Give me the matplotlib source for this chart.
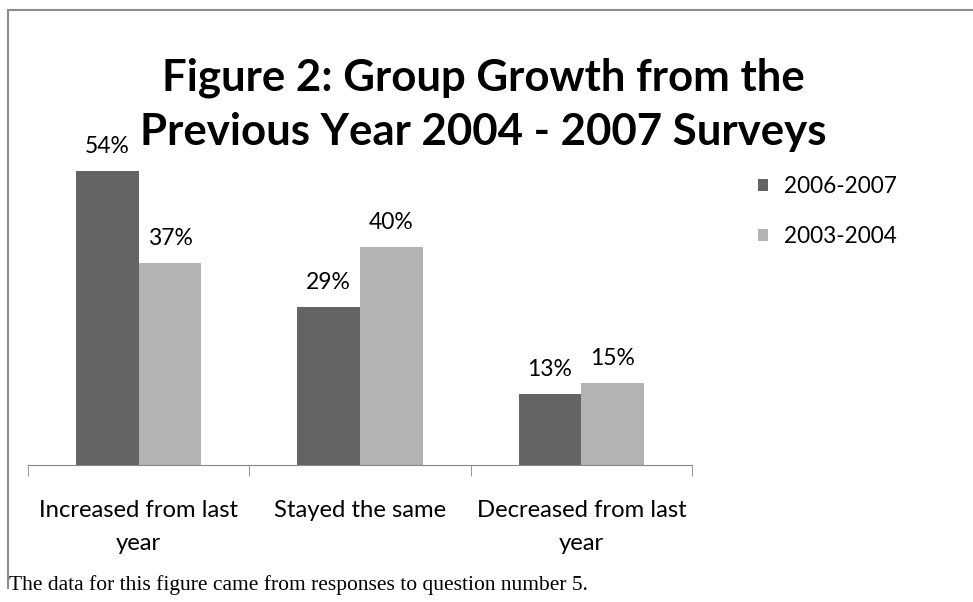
import numpy as np
import matplotlib.pyplot as plt
from matplotlib.lines import Line2D

# survey answers, percent of groups
categories = ['Increased from last\nyear', 'Stayed the same', 'Decreased from last\nyear']
series_names = ['2006-2007', '2003-2004']
vals_2006_2007 = [54, 29, 13]
vals_2003_2004 = [37, 40, 15]

dark = '#646464'
light = '#b3b3b3'
font = 'Lato'

fig = plt.figure(figsize=(9.73, 6.02), dpi=100)
ax = fig.add_axes([28 / 973, 137 / 602, 664 / 973, 327 / 602])

x = np.arange(len(categories))
w = 0.283
b1 = ax.bar(x - w / 2, vals_2006_2007, w, color=dark, label=series_names[0])
b2 = ax.bar(x + w / 2, vals_2003_2004, w, color=light, label=series_names[1])

for bars in (b1, b2):
    ax.bar_label(bars, labels=[f'{v}%' for v in bars.datavalues], padding=10,
                 fontsize=16.5, family=font)

ax.set_xlim(-0.5, 2.5)
ax.set_ylim(0, 60)
ax.set_yticks([])
for s in ('top', 'right', 'left'):
    ax.spines[s].set_visible(False)
ax.spines['bottom'].set_color('#878787')
ax.set_xticks([-0.5, 0.5, 1.5, 2.5], minor=True)
ax.set_xticks(x)
ax.set_xticklabels(categories, fontsize=17.2, family=font, linespacing=1.7)
ax.tick_params(axis='x', which='major', length=0, pad=25)
ax.tick_params(axis='x', which='minor', length=8, color='#878787')

ax.legend(loc='upper left', bbox_to_anchor=(738 / 973, 1 - 156 / 602),
          bbox_transform=fig.transFigure, frameon=False, prop={'family': font, 'size': 16.3},
          handlelength=0.42, handleheight=0.42, handletextpad=0.7, labelspacing=1.28)

fig.text(483 / 973, 1 - 105 / 602, 'Figure 2: Group Growth from the\nPrevious Year 2004 - 2007 Surveys',
         ha='center', va='center', fontsize=31.5, fontweight='bold', family=font, linespacing=1.42)

fig.text(9 / 973, 1 - 585 / 602, 'The data for this figure came from responses to question number 5.',
         ha='left', va='center', fontsize=15.5, family='Liberation Serif')

# frame lines along the top and left of the chart area
fig.add_artist(Line2D([7.5 / 973, 1], [1 - 9.5 / 602] * 2, transform=fig.transFigure,
                      color='#8c8c8c', lw=1.5))
fig.add_artist(Line2D([7.5 / 973] * 2, [1 - 9.5 / 602, 1 - 588 / 602], transform=fig.transFigure,
                      color='#8c8c8c', lw=1.5))

fig.savefig('out.png', dpi=100)
